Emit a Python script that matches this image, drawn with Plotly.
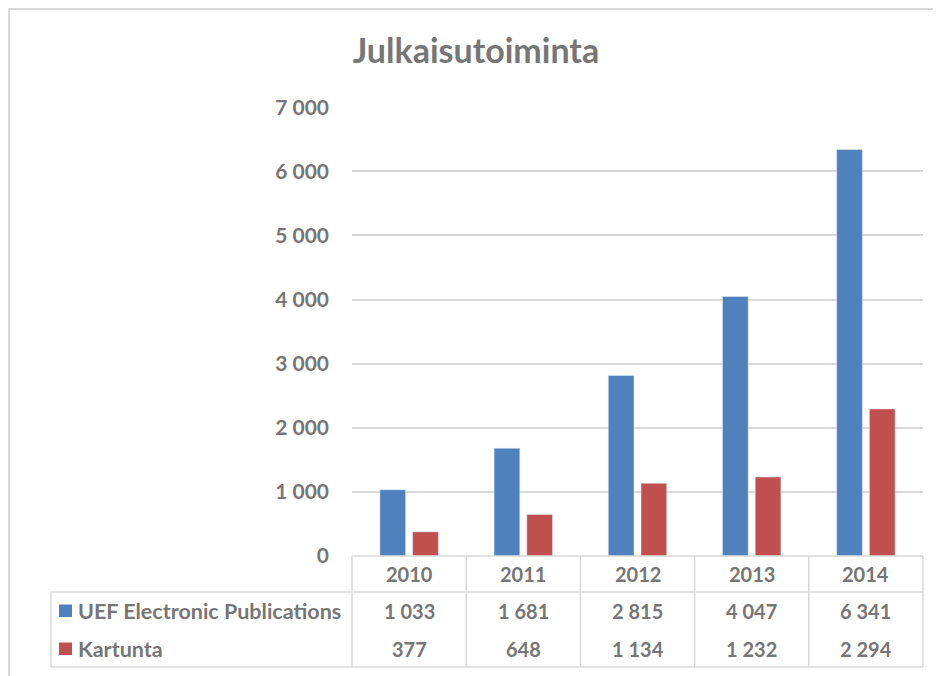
import plotly.graph_objects as go

years = ["2010", "2011", "2012", "2013", "2014"]
series_names = ["UEF Electronic Publications", "Kartunta"]
uef = [1033, 1681, 2815, 4047, 6341]
kartunta = [377, 648, 1134, 1232, 2294]
y_ticks = [0, 1000, 2000, 3000, 4000, 5000, 6000, 7000]
title_text = "Julkaisutoiminta"

OFF = 8  # page body margin
W, H = 941 - OFF, 676 - OFF
BLUE = "#4F81BD"
RED = "#C0504D"
TXT = "#767676"
GRID = "#D9D9D9"
FONT = "Lato"


def px(x):
    return (x - OFF) / W


def py(y):
    return 1 - (y - OFF) / H


def fmt(v):
    return f"{v:,}".replace(",", " ")


fig = go.Figure()
fig.add_trace(go.Bar(x=years, y=uef, name=series_names[0], marker_color=BLUE))
fig.add_trace(go.Bar(x=years, y=kartunta, name=series_names[1], marker_color=RED))

x0, x1 = 352, 923
y_top, y_zero = 107, 556
col_w = (x1 - x0) / len(years)
row_line, row_bottom = 592, 667
table_left = 51

shapes = []
line = dict(color=GRID, width=1.5)
# outer frame
shapes.append(dict(type="line", xref="paper", yref="paper", x0=px(6), x1=px(960), y0=py(9), y1=py(9), line=dict(color=GRID, width=2)))
shapes.append(dict(type="line", xref="paper", yref="paper", x0=px(9), x1=px(9), y0=py(8), y1=py(700), line=dict(color=GRID, width=2)))
# table horizontal lines
shapes.append(dict(type="line", xref="paper", yref="paper", x0=px(x0), x1=px(x1), y0=py(y_zero), y1=py(y_zero), line=line))
shapes.append(dict(type="line", xref="paper", yref="paper", x0=px(table_left), x1=px(x1), y0=py(row_line), y1=py(row_line), line=line))
shapes.append(dict(type="line", xref="paper", yref="paper", x0=px(table_left), x1=px(x1), y0=py(row_bottom), y1=py(row_bottom), line=line))
# table vertical lines
shapes.append(dict(type="line", xref="paper", yref="paper", x0=px(table_left), x1=px(table_left), y0=py(row_line), y1=py(row_bottom), line=line))
for i in range(len(years) + 1):
    xx = x0 + i * col_w
    shapes.append(dict(type="line", xref="paper", yref="paper", x0=px(xx), x1=px(xx), y0=py(y_zero), y1=py(row_bottom), line=line))
# legend keys
for color, yc in [(BLUE, 611), (RED, 649)]:
    shapes.append(dict(type="rect", xref="paper", yref="paper", x0=px(59), x1=px(72), y0=py(yc - 6.5), y1=py(yc + 6), line=dict(width=0), fillcolor=color))

annotations = []
nfont = dict(family=FONT, size=20, color=TXT, weight="bold")
lfont = dict(family=FONT, size=21.5, color=TXT, weight="bold")
for i, yr in enumerate(years):
    annotations.append(dict(x=i, xref="x", y=py(574), yref="paper", text=yr, showarrow=False, font=nfont, xanchor="center", yanchor="middle"))
    annotations.append(dict(x=i, xref="x", y=py(611), yref="paper", text=fmt(uef[i]), showarrow=False, font=nfont, xanchor="center", yanchor="middle"))
    annotations.append(dict(x=i, xref="x", y=py(649), yref="paper", text=fmt(kartunta[i]), showarrow=False, font=nfont, xanchor="center", yanchor="middle"))
for name, yc in zip(series_names, [611, 649]):
    annotations.append(dict(x=px(76), xref="paper", y=py(yc), yref="paper", text=name, showarrow=False, font=lfont, xanchor="left", yanchor="middle"))

fig.update_layout(
    width=W, height=H,
    margin=dict(l=0, r=0, t=0, b=0, autoexpand=False),
    paper_bgcolor="white", plot_bgcolor="white",
    showlegend=False,
    barmode="group", bargap=0.427, bargroupgap=0.214,
    separators=". ",
    title=dict(text=title_text, x=px(476), y=py(51), xanchor="center", yanchor="middle",
               font=dict(family=FONT, size=34, color=TXT, weight="bold")),
    xaxis=dict(type="category", domain=[px(x0), px(x1)], range=[-0.5, len(years) - 0.5],
               showticklabels=False, showgrid=False,
               zeroline=False, showline=False, ticks="", automargin=False),
    yaxis=dict(domain=[py(y_zero), py(y_top)], range=[0, 7003], tickvals=y_ticks,
               ticktext=[fmt(v) for v in y_ticks], showgrid=True, gridcolor=GRID, gridwidth=1.5,
               zeroline=False, showline=False, ticks="", ticklabelstandoff=22, automargin=False,
               tickfont=dict(family=FONT, size=21, color=TXT, weight="bold")),
    shapes=shapes, annotations=annotations,
)

fig.write_html("out.html")
